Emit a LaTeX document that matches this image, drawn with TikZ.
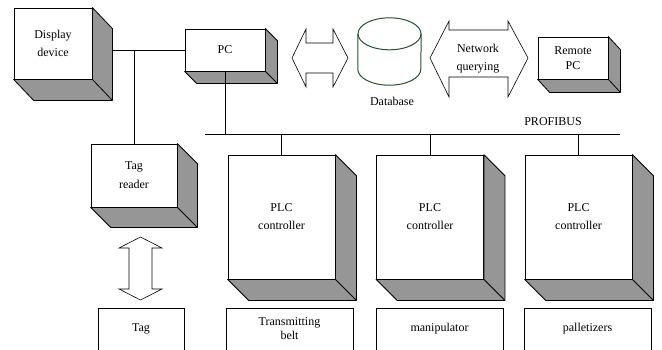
\documentclass[tikz,border=0pt]{standalone}
\usepackage{fontspec}
\setmainfont{Liberation Serif}
\usetikzlibrary{calc}
\definecolor{shadegray}{RGB}{150,150,150}
\definecolor{dbgreen}{RGB}{40,80,50}
\tikzset{
  front/.style={draw, fill=white, line width=0.8pt, inner sep=0pt, align=center,
    font=\fontsize{12}{18}\selectfont},
  label/.style={inner sep=0pt, align=center, font=\fontsize{12}{18}\selectfont},
  bigarrow/.style={draw, fill=white, line width=0.6pt, line join=miter},
  wire/.style={line width=0.8pt},
}
\newcommand\boxdepth[3]{%
  \filldraw[fill=shadegray, line width=0.8pt, line join=round] (#1.north east) -- ($(#1.north east)+(#2,#3)$)
    -- ($(#1.south east)+(#2,#3)$) -- ($(#1.south west)+(#2,#3)$)
    -- (#1.south west) -- (#1.south east) -- cycle;
  \draw[line width=0.8pt] (#1.south east) -- ($(#1.south east)+(#2,#3)$);}
\begin{document}
\begin{tikzpicture}[x=1pt,y=-1pt]
\useasboundingbox (0,0) rectangle (662,349);
\clip (0,0) rectangle (662,349);

% 3D boxes
\node[front, minimum width=78pt, minimum height=71pt] (disp) at (53,43.5) {Display\\device};
\boxdepth{disp}{20}{21}
\node[front, minimum width=80pt, minimum height=42pt] (pc) at (225,50) {PC};
\boxdepth{pc}{12}{12}
\node[front, minimum width=70pt, minimum height=42pt, font=\fontsize{12}{15}\selectfont] (remote) at (573,58) {Remote\\PC};
\boxdepth{remote}{12}{13}
\node[front, minimum width=86pt, minimum height=63pt, font=\fontsize{12}{19}\selectfont] (reader) at (134,175.5) {Tag\\reader};
\boxdepth{reader}{20}{20}
\node[front, minimum width=107pt, minimum height=124pt] (plc1) at (281.5,217) {PLC\\controller};
\boxdepth{plc1}{21}{21}
\node[front, minimum width=107pt, minimum height=124pt] (plc2) at (430,217) {PLC\\controller};
\boxdepth{plc2}{21}{21}
\node[front, minimum width=107pt, minimum height=124pt] (plc3) at (578.5,217) {PLC\\controller};
\boxdepth{plc3}{21}{21}

% bottom boxes (cut by the picture edge)
\node[front, minimum width=86pt, minimum height=42pt] (tag) at (141,329) {Tag};
\node[front, minimum width=127pt, minimum height=42pt, font=\fontsize{12}{14}\selectfont] (belt) at (289.5,329) {Transmitting\\belt};
\node[front, minimum width=127pt, minimum height=42pt] (manip) at (439.5,329) {manipulator};
\node[front, minimum width=127pt, minimum height=42pt] (pallet) at (587.5,329) {palletizers};

% database
\node[minimum width=63pt, minimum height=67pt, inner sep=0pt] (db) at (389.5,51.5) {};
\draw[dbgreen, line width=1pt] ($(db.north west)+(0,16)$) -- ($(db.south west)+(0,-16)$)
  arc[start angle=180, end angle=360, x radius=31.5pt, y radius=16pt]
  -- ($(db.north east)+(0,16)$);
\draw[dbgreen, line width=1pt] ($(db.north)+(0,16)$) ellipse[x radius=31.5pt, y radius=16pt];
\node[label] (dblabel) at (392,101) {Database};

% wires
\draw[wire] ($(disp.east |- pc.west)+(20,0)$) -- (pc.west);
\coordinate (jd) at (reader.north |- pc.west);
\draw[wire] (jd) -- (reader.north);
\coordinate (busL) at (205,134);
\coordinate (busR) at (620,134);
\draw[wire] (busL) -- (busR);
\draw[wire] (pc.south) -- (pc.south |- busL);
\draw[wire] (plc1.north |- busL) -- (plc1.north);
\draw[wire] (plc2.north |- busL) -- (plc2.north);
\draw[wire] (plc3.north |- busL) -- (plc3.north);
\node[label] (profibus) at (553,122) {PROFIBUS};

% double arrows
\draw[bigarrow] (292,58) -- (306,29) -- (306,43) -- (333,43) -- (333,29) -- (348,58)
  -- (333,87) -- (333,73) -- (306,73) -- (306,87) -- cycle;
\draw[bigarrow] (430,58) -- (449,21) -- (449,30) -- (508,30) -- (508,21) -- (528,58)
  -- (508,97) -- (508,77) -- (449,77) -- (449,97) -- cycle;
\node[label] (netq) at (478,59) {Network\\querying};
\draw[bigarrow] (140.5,237) -- (162,248) -- (152,248) -- (152,289) -- (162,289) -- (140.5,300)
  -- (119,289) -- (129,289) -- (129,248) -- (119,248) -- cycle;
\end{tikzpicture}
\end{document}
